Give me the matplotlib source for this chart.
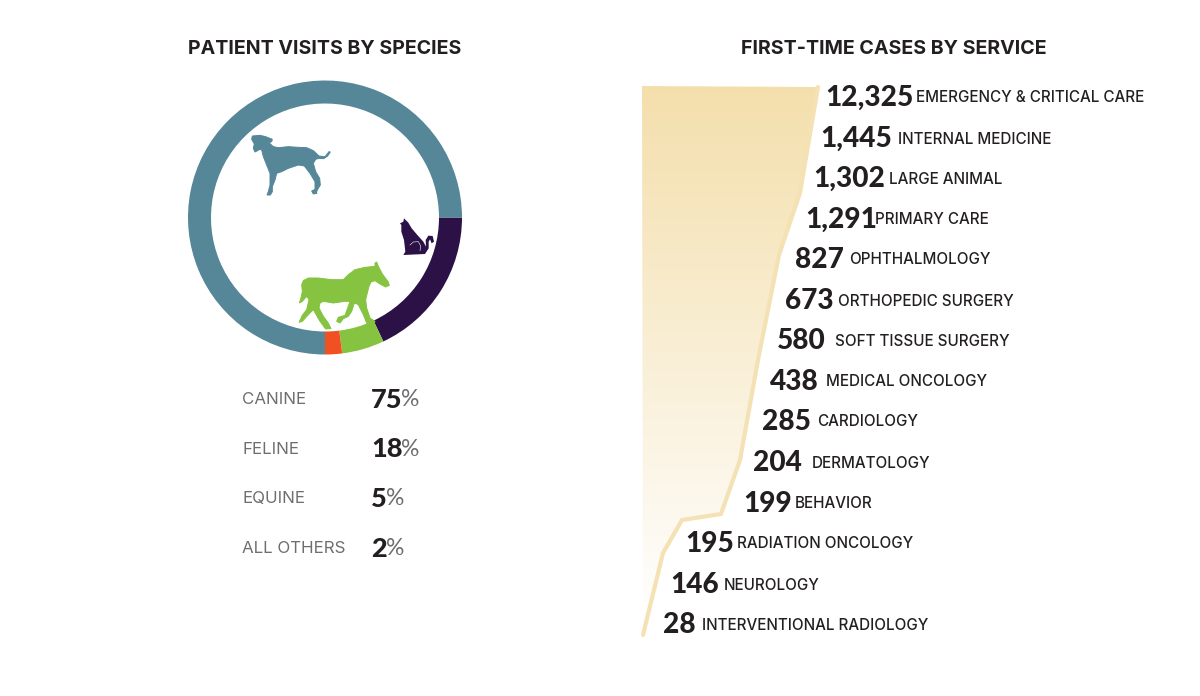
import numpy as np
import matplotlib
matplotlib.use('Agg')
import matplotlib.pyplot as plt
from matplotlib.patches import Polygon, Wedge

plt.rcParams['font.family'] = ['Inter', 'DejaVu Sans']
NUM_FONT = ['Lato', 'DejaVu Sans']

species = ['CANINE', 'FELINE', 'EQUINE', 'ALL OTHERS']
species_pct = [75, 18, 5, 2]
species_colors = ['#558798', '#2b1145', '#85c341', '#f15022']

services = ['EMERGENCY & CRITICAL CARE', 'INTERNAL MEDICINE', 'LARGE ANIMAL', 'PRIMARY CARE',
            'OPHTHALMOLOGY', 'ORTHOPEDIC SURGERY', 'SOFT TISSUE SURGERY', 'MEDICAL ONCOLOGY',
            'CARDIOLOGY', 'DERMATOLOGY', 'BEHAVIOR', 'RADIATION ONCOLOGY', 'NEUROLOGY',
            'INTERVENTIONAL RADIOLOGY']
cases = [12325, 1445, 1302, 1291, 827, 673, 580, 438, 285, 204, 199, 195, 146, 28]
# left end of each number and its row
num_left = [825, 820, 813, 805, 795, 785, 777, 770, 762, 753, 743, 685, 670, 663]
label_left = [916, 898, 889, 875, 849, 838, 835, 826, 817, 812, 795, 737, 724, 702]
row_y = [97, 138, 178, 219, 259, 300, 340, 381, 421, 462, 503, 543, 584, 624]

# outline of the area
edge_x = [818, 800, 779, 758, 740, 721, 682, 663, 643]
edge_y = [87, 193, 255, 360, 460, 514, 520, 553, 635]

# silhouettes, traced on 3x crops
dog_zx = [22, 45, 62, 82, 80, 72, 85, 100, 130, 160, 185, 205, 222, 240, 252, 256, 248, 236, 222, 212, 205, 212, 224, 226, 218, 214, 216, 205, 200, 210, 210, 195, 178, 160, 130, 110, 95, 90, 82, 82, 76, 66, 70, 75, 75, 65, 55, 50, 45, 30, 25, 28, 20]
dog_zy = [18, 16, 20, 28, 35, 38, 50, 53, 50, 52, 53, 62, 78, 80, 65, 66, 78, 86, 85, 88, 100, 125, 145, 165, 178, 188, 190, 192, 183, 178, 155, 130, 108, 105, 115, 125, 130, 150, 170, 185, 195, 195, 185, 165, 130, 105, 80, 60, 58, 66, 55, 42, 28]
horse_zx = [245, 250, 262, 280, 283, 272, 255, 240, 228, 222, 212, 215, 225, 240, 232, 215, 205, 190, 178, 170, 160, 145, 135, 125, 130, 150, 158, 165, 150, 115, 85, 75, 72, 85, 100, 108, 92, 75, 55, 40, 22, 12, 22, 35, 42, 35, 22, 13, 18, 22, 20, 25, 40, 70, 110, 145, 160, 180, 210, 240, 240]
horse_zy = [12, 25, 48, 72, 82, 87, 78, 68, 72, 85, 125, 150, 180, 190, 210, 195, 170, 140, 135, 160, 175, 182, 195, 190, 178, 172, 150, 130, 130, 135, 130, 135, 150, 175, 195, 212, 213, 190, 155, 170, 190, 193, 172, 155, 125, 115, 130, 135, 120, 100, 80, 68, 60, 60, 65, 65, 50, 35, 28, 25, 15]
cat_zx = [672, 685, 695, 712, 730, 738, 737, 745, 758, 762, 755, 750, 746, 746, 735, 670, 676, 672, 664, 664, 660, 670]
cat_zy = [445, 458, 475, 495, 515, 530, 510, 497, 498, 515, 520, 508, 515, 535, 552, 555, 545, 510, 485, 465, 460, 455]
cat_line_zx = [690, 700, 715, 722, 720]
cat_line_zy = [525, 516, 515, 528, 542]

fig = plt.figure(figsize=(12, 6.96), dpi=100)
ax = fig.add_axes([0, 0, 1, 1])
ax.set_xlim(0, 1200)
ax.set_ylim(696, 0)
ax.axis('off')

# ring
cx, cy = 325, 217.5
start = 0
# y is flipped so the wedges run clockwise from east
for i in [1, 2, 3, 0]:
    sweep = species_pct[i] * 3.6
    ax.add_patch(Wedge((cx, cy), 137, start, start + sweep, width=23, fc=species_colors[i], ec='none'))
    start += sweep

ax.text(325, 49, 'PATIENT VISITS BY SPECIES', ha='center', va='center', fontsize=14.1, fontweight='bold', color='#231f20')
ax.text(894, 49, 'FIRST-TIME CASES BY SERVICE', ha='center', va='center', fontsize=14.15, fontweight='bold', color='#231f20')

for i in range(len(species)):
    y = 399.5 + i * 49.7
    ax.text(242, y, species[i], va='center', fontsize=12.2, color='#6d6e71')
    t = ax.text(371, y, str(species_pct[i]), va='center', fontsize=19.5, fontweight='black', family=NUM_FONT, color='#231f20')
    fig.canvas.draw()
    bb = t.get_window_extent()
    ax.text(bb.x1 - 1, y, '%', va='center', fontsize=16.5, family=NUM_FONT, color='#6d6e71')

# area with gradient
poly_x = [642] + edge_x
poly_y = [86] + edge_y
grad = np.linspace(0, 1, 256).reshape(-1, 1)
c0 = np.array([244, 223, 172]) / 255
c1 = np.array([255, 255, 255]) / 255
img = c0 + (c1 - c0) * grad[:, :, None]
im = ax.imshow(img, extent=[642, 820, 620, 86], aspect='auto', zorder=1)
clip = Polygon(np.column_stack([poly_x, poly_y]), closed=True, transform=ax.transData, fc='none', ec='none')
ax.add_patch(clip)
im.set_clip_path(clip)
ax.set_xlim(0, 1200)
ax.set_ylim(696, 0)
ax.plot(edge_x, edge_y, color='#f4e2b4', lw=3, solid_joinstyle='round', solid_capstyle='round', zorder=2)

for i in range(len(services)):
    ax.text(num_left[i], row_y[i] + 1, f'{cases[i]:,}', va='center', fontsize=20.2, fontweight='black', family=NUM_FONT, color='#231f20')
    ax.text(label_left[i], row_y[i] + 1, services[i], va='center', fontsize=10.95, fontweight='medium', color='#231f20')

ax.fill(245 + np.array(dog_zx) / 3, 130 + np.array(dog_zy) / 3, color=species_colors[0], lw=0.7, zorder=3)
ax.fill(295 + np.array(horse_zx) / 3, 258 + np.array(horse_zy) / 3, color=species_colors[2], lw=0.7, zorder=3)
ax.fill(180 + np.array(cat_zx) / 3, 70 + np.array(cat_zy) / 3, color=species_colors[1], lw=0, zorder=3)
ax.plot(180 + np.array(cat_line_zx) / 3, 70 + np.array(cat_line_zy) / 3, color='white', lw=0.4, zorder=4)

fig.savefig('out.png', dpi=100)
